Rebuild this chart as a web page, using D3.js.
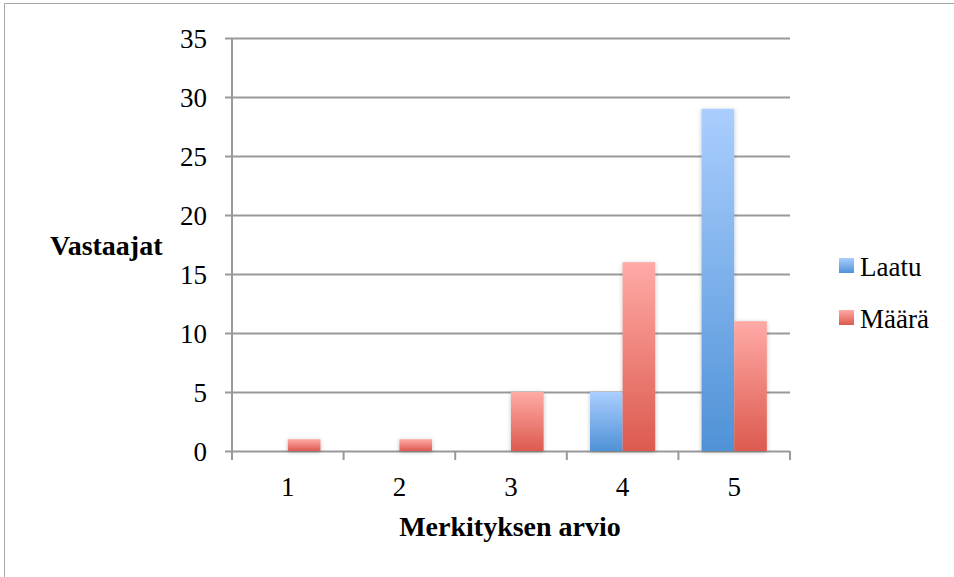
<!DOCTYPE html>
<html>
<head>
<meta charset="utf-8">
<script src="https://cdn.jsdelivr.net/npm/d3@7"></script>
<style>
  html, body { margin: 0; padding: 0; background: #fff; }
  svg { display: block; }
  text { font-family: "Liberation Serif", "DejaVu Serif", serif; fill: #000; }
</style>
</head>
<body>
<script>
// Vastaajien arviot: kategoriat ja sarjat
const categories = ["1", "2", "3", "4", "5"];
const seriesNames = ["Laatu", "Määrä"];
const laatu = [0, 0, 0, 5, 29];
const maara = [1, 1, 5, 16, 11];
const yTicks = [0, 5, 10, 15, 20, 25, 30, 35];

const W = 954, H = 577;
const margin = { left: 232, right: 164, top: 38, bottom: 126 };
const serif = "'Liberation Serif', 'DejaVu Serif', serif";

const svg = d3.select("body").append("svg").attr("width", W).attr("height", H)
  .attr("font-family", serif);

// gradients + soft shadow
const defs = svg.append("defs");
const grads = [
  { id: "gBlue", top: "#aacefe", bottom: "#4f92d7" },
  { id: "gRed", top: "#ffaaa6", bottom: "#dc5a4e" }
];
grads.forEach(g => {
  const lg = defs.append("linearGradient").attr("id", g.id)
    .attr("x1", 0).attr("y1", 0).attr("x2", 0).attr("y2", 1);
  lg.append("stop").attr("offset", "0%").attr("stop-color", g.top);
  lg.append("stop").attr("offset", "100%").attr("stop-color", g.bottom);
});
const f = defs.append("filter").attr("id", "shadow")
  .attr("x", "-30%").attr("y", "-10%").attr("width", "160%").attr("height", "130%");
f.append("feDropShadow").attr("dx", 0).attr("dy", 1).attr("stdDeviation", 2)
  .attr("flood-color", "#000").attr("flood-opacity", 0.25);

// outer frame
svg.append("path")
  .attr("d", `M4.5,${H} V3.5 H${W}`)
  .attr("fill", "none").attr("stroke", "#a6a6a6").attr("stroke-width", 1);

const x0 = margin.left, x1 = W - margin.right;
const yTop = margin.top, yBot = H - margin.bottom;

const x = d3.scaleBand().domain(categories).range([x0, x1]).paddingInner(0).paddingOuter(0);
const y = d3.scaleLinear().domain([0, 35]).range([yBot, yTop]);
const xs = d3.scaleBand().domain(seriesNames).range([0, x.bandwidth()]).paddingInner(0).paddingOuter(0.71);

const gridColor = "#999";

// horizontal gridlines (with outward tick)
svg.append("g").selectAll("line").data(yTicks).join("line")
  .attr("x1", x0 - 7).attr("x2", x1)
  .attr("y1", d => Math.round(y(d)) + 0.5).attr("y2", d => Math.round(y(d)) + 0.5)
  .attr("stroke", gridColor).attr("stroke-width", 2);

// y axis line
svg.append("line")
  .attr("x1", x0).attr("x2", x0).attr("y1", yTop).attr("y2", yBot + 9)
  .attr("stroke", gridColor).attr("stroke-width", 2);

// category ticks
const tickXs = categories.map(c => x(c)).concat([x1]);
svg.append("g").selectAll("line").data(tickXs).join("line")
  .attr("x1", d => d).attr("x2", d => d).attr("y1", yBot).attr("y2", yBot + 9)
  .attr("stroke", gridColor).attr("stroke-width", 2);

// y tick labels
svg.append("g").selectAll("text").data(yTicks).join("text")
  .attr("x", x0 - 25).attr("y", d => y(d) + 1).attr("dy", "0.35em")
  .attr("text-anchor", "end").attr("font-size", 27).attr("font-family", serif).text(d => d);

// x tick labels
svg.append("g").selectAll("text").data(categories).join("text")
  .attr("x", d => x(d) + x.bandwidth() / 2).attr("y", yBot + 36).attr("dy", "0.35em")
  .attr("text-anchor", "middle").attr("font-size", 27).attr("font-family", serif).text(d => d);

// bars
const rows = categories.map((c, i) => ({ c, vals: [laatu[i], maara[i]] }));
const fills = ["url(#gBlue)", "url(#gRed)"];
const barG = svg.append("g").attr("filter", "url(#shadow)");
rows.forEach(r => {
  r.vals.forEach((v, k) => {
    if (v <= 0) return;
    barG.append("rect")
      .attr("x", x(r.c) + xs(seriesNames[k]))
      .attr("width", xs.bandwidth())
      .attr("y", y(v))
      .attr("height", y(0) - y(v))
      .attr("fill", fills[k]);
  });
});

// axis titles
svg.append("text").attr("x", 50).attr("y", 255)
  .attr("text-anchor", "start").attr("font-size", 28).attr("font-weight", "bold")
  .attr("font-family", serif).text("Vastaajat");
svg.append("text").attr("x", 510).attr("y", 536)
  .attr("text-anchor", "middle").attr("font-size", 28).attr("font-weight", "bold")
  .attr("font-family", serif).text("Merkityksen arvio");

// legend
const legend = svg.append("g");
seriesNames.forEach((n, i) => {
  const ly = 265.5 + i * 52;
  legend.append("rect").attr("x", 839).attr("y", ly - 7.5).attr("width", 15).attr("height", 15)
    .attr("fill", fills[i]);
  legend.append("text").attr("x", 860).attr("y", ly + 10.5)
    .attr("font-size", 27).attr("font-family", serif).text(n);
});
</script>
</body>
</html>
